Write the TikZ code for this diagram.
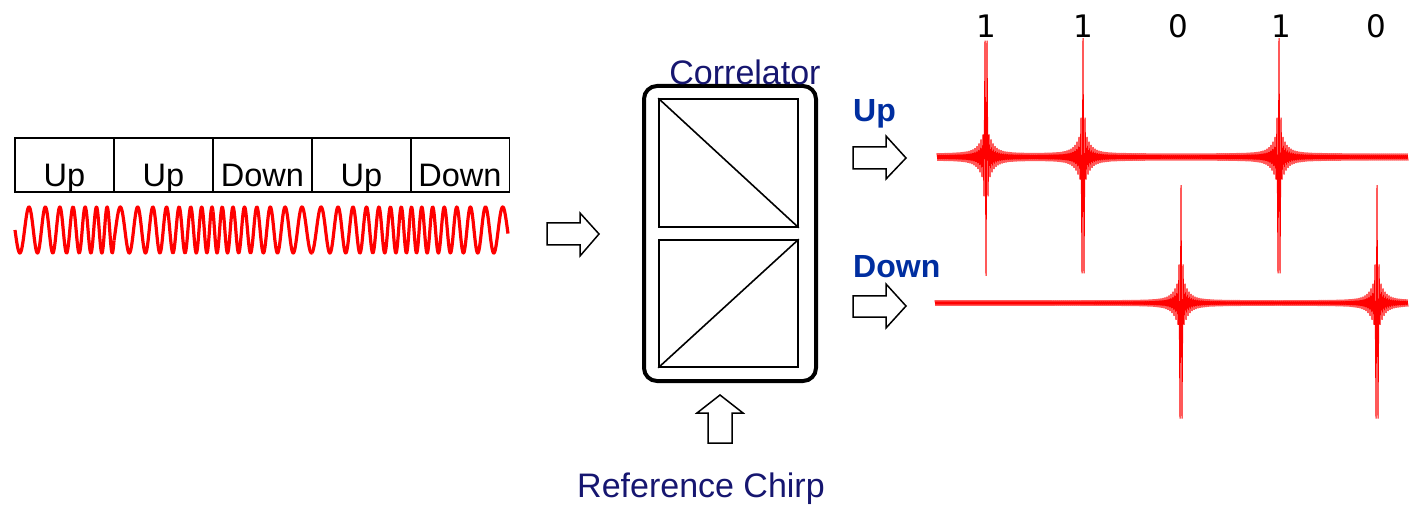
\documentclass[tikz,border=0pt]{standalone}
\usepackage{fontspec}
\setmainfont{Liberation Sans}
\newfontfamily\digitfont{DejaVu Sans}
\definecolor{navyc}{RGB}{22,22,112}
\definecolor{bluec}{RGB}{0,46,160}
\begin{document}
\begin{tikzpicture}[x=1pt,y=-1pt,
  cell/.style={draw=black, line width=1.5pt, minimum width=99pt, minimum height=54pt, inner sep=0pt, outer sep=0pt},
  celltext/.style={anchor=base, inner sep=0pt, font=\fontsize{32.5}{36}\selectfont},
  chirp/.style={red, line width=3.2pt, line join=round},
  trace/.style={red, line width=1.0pt, line join=bevel},
  blockarr/.style={draw=black, fill=white, line width=1.5pt, line join=miter},
  inner/.style={draw=black, line width=1.6pt},
  digit/.style={anchor=base, inner sep=0pt, font=\digitfont\fontsize{31}{36}\selectfont},
  title/.style={anchor=base, inner sep=0pt, text=navyc, font=\fontsize{34}{38}\selectfont},
  outlabel/.style={anchor=base west, inner sep=0pt, text=bluec, font=\bfseries\fontsize{32}{36}\selectfont},
  declare function={pk(\d)=24/(1+(min(abs(\d),100)/6)^2)+92/(1+0.02*min(abs(\d),3)^8);
    upph(\t)=360*(0.05*\t+0.025*\t*\t/99);
    dnph(\t)=360*(0.1*\t-0.025*\t*\t/99);}
]
\useasboundingbox (0,0) rectangle (1409,505);

% ---- symbol boxes ----
\node[cell] (c1) at (64.5,165) {};
\node[cell] (c2) at (163.5,165) {};
\node[cell] (c3) at (262.5,165) {};
\node[cell] (c4) at (361.5,165) {};
\node[cell] (c5) at (460,165) {};
\node[celltext] (t1) at (64.5,187) {Up};
\node[celltext] (t2) at (163.5,187) {Up};
\node[celltext] (t3) at (262.5,187) {Down};
\node[celltext] (t4) at (361.5,187) {Up};
\node[celltext] (t5) at (460,187) {Down};

% ---- transmitted chirps (phase-continuous) ----
\draw[chirp] plot[domain=0:99, samples=320, variable=\t] ({15+\t},{230+23*sin(upph(\t))});
\draw[chirp] plot[domain=0:99, samples=320, variable=\t] ({114+\t},{230+23*sin(upph(\t)+153)});
\draw[chirp] plot[domain=0:99, samples=320, variable=\t] ({213+\t},{230+23*sin(dnph(\t)+306)});
\draw[chirp] plot[domain=0:99, samples=320, variable=\t] ({312+\t},{230+23*sin(upph(\t)+99)});
\draw[chirp] plot[domain=0:97, samples=320, variable=\t] ({411+\t},{230+23*sin(dnph(\t)+252)});

% ---- input arrow ----
\draw[blockarr] (547,223) -- (580,223) -- (580,213) -- (599,234) -- (580,256) -- (580,245) -- (547,245) -- cycle;

% ---- correlator ----
\node[draw=black, line width=4pt, rounded corners=13pt, minimum width=172pt, minimum height=295pt, inner sep=0pt] (corr) at (730,233.5) {};
\node[inner, minimum width=139pt, minimum height=128pt, inner sep=0pt] (upf) at (728.5,163) {};
\node[inner, minimum width=139pt, minimum height=127pt, inner sep=0pt] (dnf) at (728.5,303.5) {};
\draw[inner] (upf.north west) -- (upf.south east);
\draw[inner] (dnf.south west) -- (dnf.north east);
\node[title] (corrlabel) at (745,85) {Correlator};

% ---- reference chirp arrow ----
\draw[blockarr] (708,443) -- (708,413) -- (697,413) -- (720,395) -- (743,413) -- (732,413) -- (732,443) -- cycle;
\node[title] (refc) at (701,497) {Reference Chirp};

% ---- output arrows ----
\draw[blockarr] (853,147) -- (886,147) -- (886,136) -- (906,158) -- (886,179) -- (886,169) -- (853,169) -- cycle;
\draw[blockarr] (853,296) -- (886,296) -- (886,284) -- (906,306) -- (886,328) -- (886,317) -- (853,317) -- cycle;
\node[outlabel] (uplab) at (853,122) {Up};
\node[outlabel] (dnlab) at (853,277) {Down};

% ---- correlator outputs ----
\draw[trace] plot[domain=0:471, samples=472, variable=\t]
  ({937+\t},{157-(1-2*mod(round(\t),2))*(1.2+pk(937+\t-986)+pk(937+\t-1083)+pk(937+\t-1279))});
\draw[trace] plot[domain=0:473, samples=474, variable=\t]
  ({935+\t},{303-(1-2*mod(round(\t),2))*(1.2+pk(935+\t-1181)+pk(935+\t-1377))});

% ---- decoded bits ----
\node[digit] (b1) at (986,38) {1};
\node[digit] (b2) at (1083,38) {1};
\node[digit] (b3) at (1178,38) {0};
\node[digit] (b4) at (1281,38) {1};
\node[digit] (b5) at (1376,38) {0};
\end{tikzpicture}
\end{document}
